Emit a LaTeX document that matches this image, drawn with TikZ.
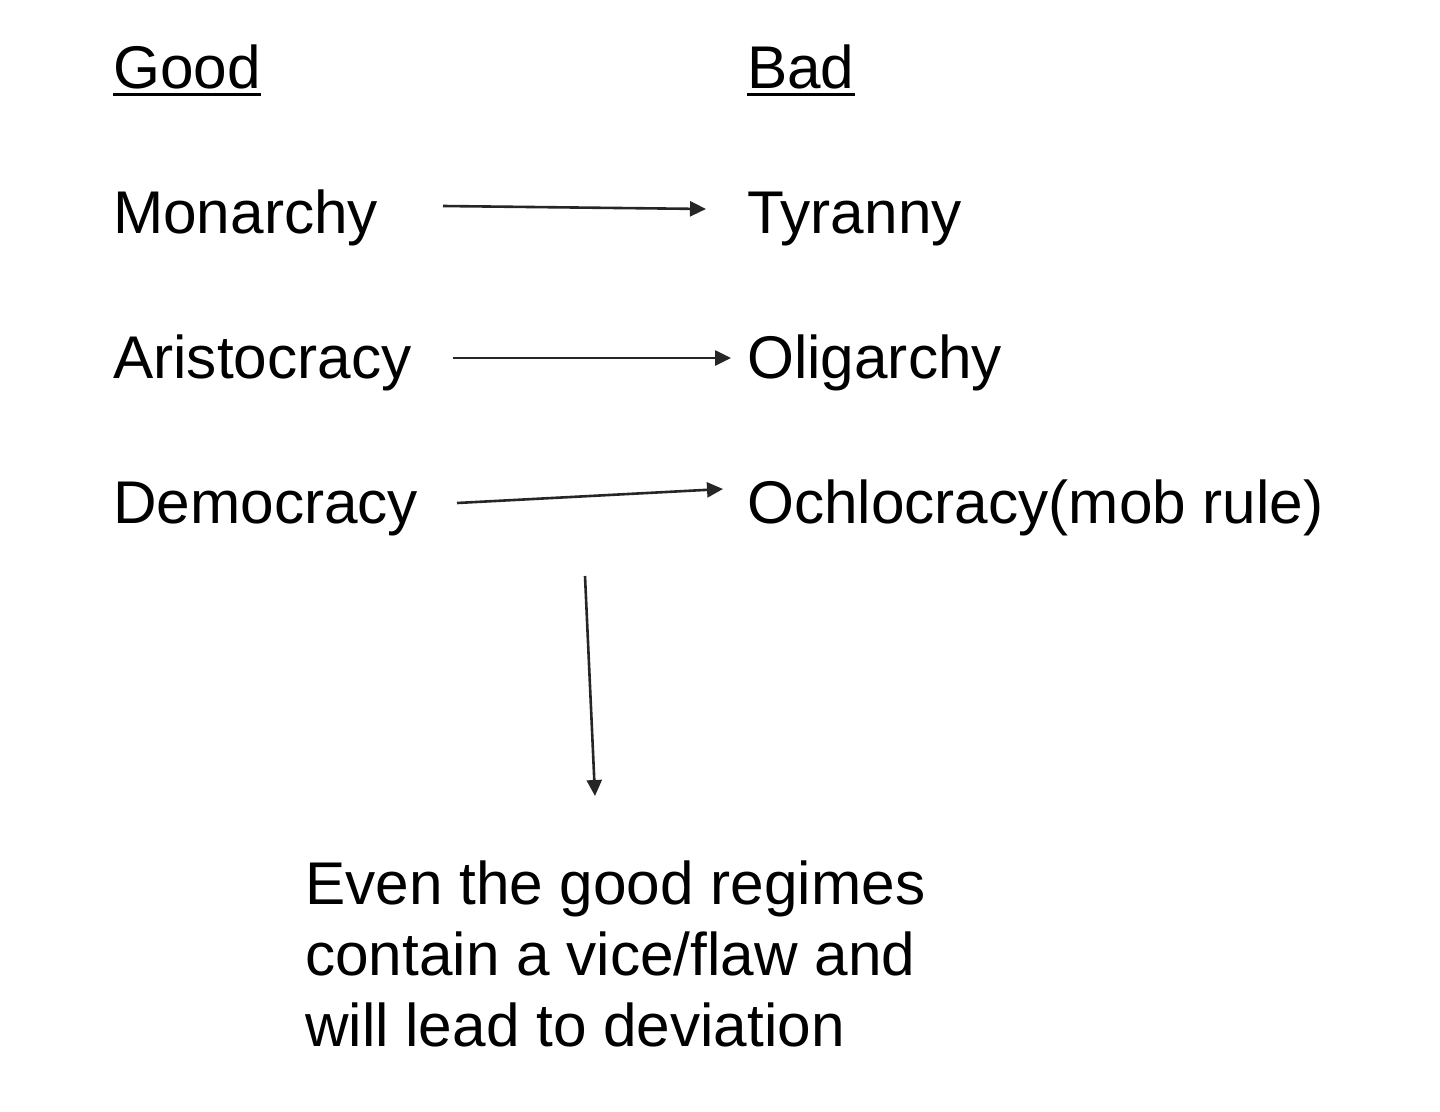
\documentclass[tikz,border=0pt]{standalone}
\usepackage{fontspec}
\setmainfont{Liberation Sans}
\usetikzlibrary{arrows.meta}
\begin{document}
\begin{tikzpicture}[x=1pt,y=-1pt,
  lbl/.style={anchor=base west,inner sep=0pt,font=\fontsize{60.3}{71}\selectfont},
  conn/.style={line width=2.6pt,draw=black!85,-{Triangle[length=16pt,width=15pt]}},
  uline/.style={line width=3pt}]
\useasboundingbox (0,0) rectangle (1440,1111);
\node[lbl] (good) at (113,88) {Good};
\node[lbl] (bad) at (747,88) {Bad};
\draw[uline] ([yshift=-6pt]good.base west) -- ([yshift=-6pt]good.base east);
\draw[uline] ([yshift=-6pt]bad.base west) -- ([yshift=-6pt]bad.base east);
\node[lbl] (mon) at (113,233) {Monarchy};
\node[lbl] (tyr) at (747,233) {Tyranny};
\node[lbl] (ari) at (113,378) {Aristocracy};
\node[lbl] (oli) at (747,378) {Oligarchy};
\node[lbl] (dem) at (113,523) {Democracy};
\node[lbl] (och) at (747,523) {Ochlocracy(mob rule)};
\node[lbl,align=left,anchor=north west] (note) at (305,861) {Even the good regimes\\contain a vice/flaw and\\will lead to deviation};
\coordinate (a1s) at (443,206); \coordinate (a1e) at (706,209);
\coordinate (a2s) at (453,358); \coordinate (a2e) at (731,358);
\coordinate (a3s) at (457,503); \coordinate (a3e) at (723,489);
\coordinate (a4s) at (585,576); \coordinate (a4e) at (595,796);
\draw[conn] (a1s) -- (a1e);
\draw[conn] (a2s) -- (a2e);
\draw[conn] (a3s) -- (a3e);
\draw[conn] (a4s) -- (a4e);
\end{tikzpicture}
\end{document}
